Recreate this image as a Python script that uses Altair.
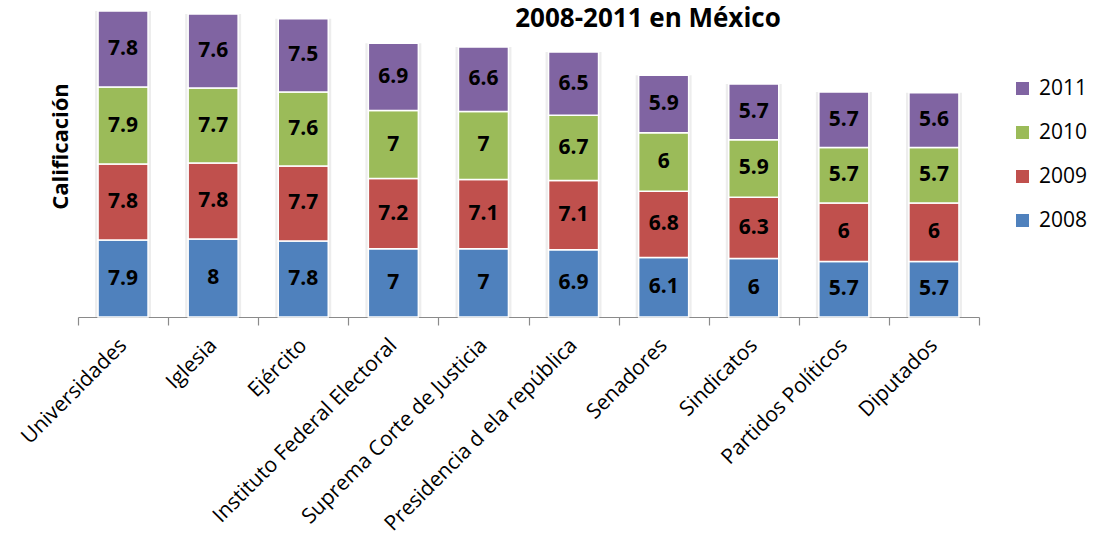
import altair as alt
import pandas as pd

# Institutions rated, in display order
instituciones = [
    "Universidades", "Iglesia", "Ejército", "Instituto Federal Electoral",
    "Suprema Corte de Justicia", "Presidencia d ela república", "Senadores",
    "Sindicatos", "Partidos Políticos", "Diputados",
]
anios = ["2008", "2009", "2010", "2011"]

# Scores per year
cal_2008 = [7.9, 8, 7.8, 7, 7, 6.9, 6.1, 6, 5.7, 5.7]
cal_2009 = [7.8, 7.8, 7.7, 7.2, 7.1, 7.1, 6.8, 6.3, 6, 6]
cal_2010 = [7.9, 7.7, 7.6, 7, 7, 6.7, 6, 5.9, 5.7, 5.7]
cal_2011 = [7.8, 7.6, 7.5, 6.9, 6.6, 6.5, 5.9, 5.7, 5.7, 5.6]

colores = {"2011": "#8064A2", "2010": "#9BBB59", "2009": "#C0504D", "2008": "#4F81BD"}
titulo = "2008-2011 en  México"

rows = []
for anio, serie in zip(anios, [cal_2008, cal_2009, cal_2010, cal_2011]):
    for inst, v in zip(instituciones, serie):
        rows.append({"institucion": inst, "anio": anio, "valor": v, "etiqueta": f"{v:g}"})
df = pd.DataFrame(rows)

FONT = "Open Sans"

x_enc = alt.X(
    "institucion:N",
    sort=instituciones,
    title=None,
    scale=alt.Scale(paddingInner=0.0, paddingOuter=0.0),
    axis=alt.Axis(
        labelAngle=-45, labelAlign="right", labelBaseline="middle",
        labelFont=FONT, labelFontSize=21, labelColor="black", labelLimit=0,
        labelPadding=17, tickBand="extent", tickSize=8, tickColor="#8a8a8a",
        domainColor="#8a8a8a", domainWidth=1.2, tickWidth=1.2, grid=False,
    ),
)
y_scale = alt.Scale(domain=[0, 31.4], nice=False, zero=True)
y_axis = alt.Axis(
    labels=False, ticks=False, domain=False, grid=False,
    title="Calificación", titleFont=FONT, titleFontSize=22, titleFontWeight="bold",
    titleColor="black", titleAngle=270, titleAlign="center", titleBaseline="middle",
    titleX=-18, titleY=135,
)

base = alt.Chart(df).transform_calculate(
    orden="toNumber(datum.anio)"
).transform_stack(
    stack="valor", groupby=["institucion"], as_=["y0", "y1"],
    sort=[alt.SortField("orden", order="ascending")],
).transform_calculate(mid="(datum.y0 + datum.y1) / 2")

# faint halo behind each column
sombra = alt.Chart(df).transform_aggregate(
    total="sum(valor)", groupby=["institucion"]
).mark_bar(size=56, color="#000000", opacity=0.07).encode(
    x=x_enc,
    y=alt.Y("total:Q", scale=y_scale, axis=y_axis),
)

barras = base.mark_bar(size=50, stroke="white", strokeWidth=1.5).encode(
    x=x_enc,
    y=alt.Y("y0:Q", scale=y_scale, axis=y_axis),
    y2="y1:Q",
    color=alt.Color(
        "anio:N",
        scale=alt.Scale(domain=list(colores.keys()), range=list(colores.values())),
        legend=alt.Legend(
            title=None, orient="none", legendX=934, legendY=67,
            symbolType="square", symbolSize=169, symbolStrokeWidth=0,
            labelFont=FONT, labelFontSize=21, labelColor="black",
            labelOffset=6, rowPadding=22, padding=0,
        ),
    ),
)

etiquetas = base.mark_text(
    font=FONT, fontSize=21, fontWeight="bold", color="black", baseline="middle"
).encode(
    x=x_enc,
    y=alt.Y("mid:Q", scale=y_scale),
    text="etiqueta:N",
)

encabezado = alt.Chart(pd.DataFrame({"t": [titulo]})).mark_text(
    font=FONT, fontSize=26, fontWeight="bold", color="black",
    align="center", baseline="alphabetic",
).encode(text="t:N", x=alt.value(570), y=alt.value(16))

chart = alt.layer(sombra, barras, etiquetas, encabezado).properties(
    width=901,
    height=306,
    autosize=alt.AutoSizeParams(type="none"),
    padding={"left": 78, "top": 11, "right": 115, "bottom": 237},
).configure_view(stroke=None)

chart.save("out.html", embed_options={"renderer": "svg", "actions": False})
